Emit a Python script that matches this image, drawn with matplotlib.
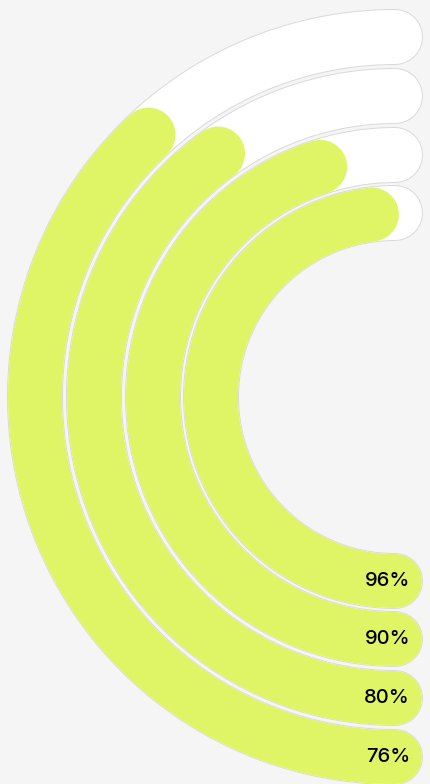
import numpy as np
import matplotlib.pyplot as plt

# datos de la gráfica (de la pista exterior a la interior)
labels = ['76%', '80%', '90%', '96%']
values = [76, 80, 90, 96]

bg = '#f5f5f5'
bar_color = '#e0f566'

fig = plt.figure(figsize=(4.3, 7.84), dpi=100, facecolor=bg)
ax = fig.add_axes([0, 0, 1, 1])
ax.set_xlim(0, 430)
ax.set_ylim(0, 784)
ax.set_facecolor(bg)
ax.axis('off')

# centro y radios de las pistas (en pixeles)
cx, cy = 395, 387
radii = [360, 301, 242, 184]
width_px = 54
lw = width_px * 72 / 100

for lab, val, r in zip(labels, values, radii):
    # pista blanca (media vuelta) con borde gris fino
    t = np.radians(np.linspace(270, 90, 300))
    x, y = cx + r * np.cos(t), cy + r * np.sin(t)
    ax.plot(x, y, color='#d9d9d9', lw=lw + 1.4, solid_capstyle='round', zorder=1)
    ax.plot(x, y, color='white', lw=lw, solid_capstyle='round', zorder=2)
    # barra de progreso
    t = np.radians(np.linspace(270, 270 - 180 * val / 100, 300))
    x, y = cx + r * np.cos(t), cy + r * np.sin(t)
    ax.plot(x, y, color=bar_color, lw=lw, solid_capstyle='round', zorder=3)
    ax.text(cx + 15, cy - r, lab, ha='right', va='center', fontsize=14.5,
            family='Inter', weight='medium', color='black', zorder=4)

fig.savefig('out.png', dpi=100, facecolor=bg)
